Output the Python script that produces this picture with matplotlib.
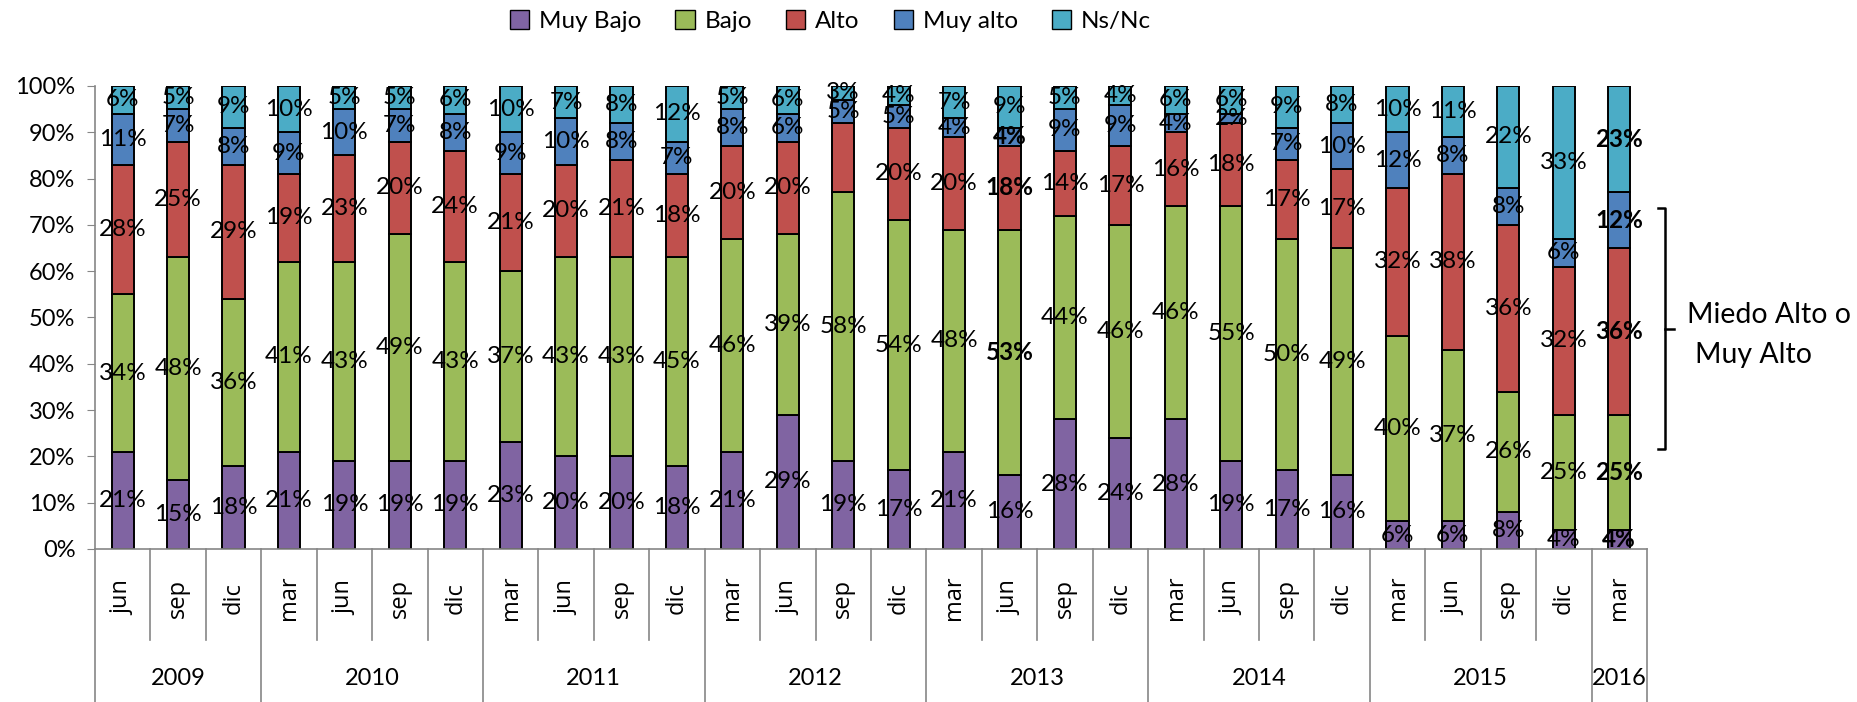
import matplotlib
matplotlib.use('Agg')
import matplotlib.pyplot as plt
import matplotlib.transforms as mtransforms
from matplotlib.patches import Patch

plt.rcParams['font.family'] = ['Lato', 'DejaVu Sans']

# Data
months = ['jun', 'sep', 'dic',
          'mar', 'jun', 'sep', 'dic',
          'mar', 'jun', 'sep', 'dic',
          'mar', 'jun', 'sep', 'dic',
          'mar', 'jun', 'sep', 'dic',
          'mar', 'jun', 'sep', 'dic',
          'mar', 'jun', 'sep', 'dic',
          'mar']
years = ['2009', '2010', '2011', '2012', '2013', '2014', '2015', '2016']
months_per_year = [3, 4, 4, 4, 4, 4, 4, 1]

muy_bajo = [21, 15, 18, 21, 19, 19, 19, 23, 20, 20, 18, 21, 29, 19, 17, 21, 16, 28, 24, 28, 19, 17, 16, 6, 6, 8, 4, 4]
bajo = [34, 48, 36, 41, 43, 49, 43, 37, 43, 43, 45, 46, 39, 58, 54, 48, 53, 44, 46, 46, 55, 50, 49, 40, 37, 26, 25, 25]
alto = [28, 25, 29, 19, 23, 20, 24, 21, 20, 21, 18, 20, 20, 15, 20, 20, 18, 14, 17, 16, 18, 17, 17, 32, 38, 36, 32, 36]
muy_alto = [11, 7, 8, 9, 10, 7, 8, 9, 10, 8, 7, 8, 6, 5, 5, 4, 4, 9, 9, 4, 2, 7, 10, 12, 8, 8, 6, 12]
ns_nc = [6, 5, 9, 10, 5, 5, 6, 10, 7, 8, 12, 5, 6, 3, 4, 7, 9, 5, 4, 6, 6, 9, 8, 10, 11, 22, 33, 23]

series_names = ['Muy Bajo', 'Bajo', 'Alto', 'Muy alto', 'Ns/Nc']
series = [muy_bajo, bajo, alto, muy_alto, ns_nc]
colors = ['#8064A2', '#9BBB59', '#C0504D', '#4F81BD', '#4BACC6']

# labels drawn in bold: (series index, bar index)
bold_labels = [(1, 16), (2, 16), (3, 16),
               (0, 27), (1, 27), (2, 27), (3, 27), (4, 27)]
hidden_labels = [(2, 13)]

fig = plt.figure(figsize=(18.58, 7.02), dpi=100)
ax = fig.add_axes([0.0511, 0.218, 0.8353, 0.6595])

x = list(range(len(months)))
bottom = [0] * len(months)
for s, (name, vals, col) in enumerate(zip(series_names, series, colors)):
    ax.bar(x, vals, 0.4, bottom=bottom, color=col, edgecolor='black',
           linewidth=1.4, label=name, zorder=2)
    for i, v in enumerate(vals):
        if (s, i) in hidden_labels:
            continue
        weight = 'bold' if (s, i) in bold_labels else 'normal'
        ax.text(i, bottom[i] + v / 2, f'{v}%', ha='center', va='center',
                fontsize=17.5, fontweight=weight, zorder=3)
    bottom = [b + v for b, v in zip(bottom, vals)]

ax.set_xlim(-0.5, len(months) - 0.5)
ax.set_ylim(0, 100)
ax.set_yticks(range(0, 101, 10))
ax.set_yticklabels([f'{t}%' for t in range(0, 101, 10)], fontsize=17)
ax.set_xticks([])
ax.tick_params(axis='y', direction='out', length=6, pad=8, color='#868686')
for side in ['top', 'right']:
    ax.spines[side].set_visible(False)
ax.spines['left'].set_color('#868686')
ax.spines['bottom'].set_color('#868686')
ax.spines['left'].set_linewidth(1.2)
ax.spines['bottom'].set_linewidth(1.2)

# Two-level category axis
trans = mtransforms.blended_transform_factory(ax.transData, ax.transAxes)
year_bounds = [0]
for n in months_per_year:
    year_bounds.append(year_bounds[-1] + n)

for i in range(1, len(months)):
    if i in year_bounds:
        continue
    ax.plot([i - 0.5, i - 0.5], [0, -0.197], transform=trans, color='#868686',
            linewidth=1.2, clip_on=False)
for b in year_bounds:
    ax.plot([b - 0.5, b - 0.5], [0, -0.33], transform=trans, color='#868686',
            linewidth=1.2, clip_on=False)

for i, m in enumerate(months):
    ax.text(i, -0.106, m, transform=trans, rotation=90, ha='center',
            va='center', fontsize=17, family=['Open Sans', 'DejaVu Sans'])
for k, y in enumerate(years):
    center = (year_bounds[k] + year_bounds[k + 1] - 1) / 2
    ax.text(center, -0.279, y, transform=trans, ha='center', va='center',
            fontsize=17)

# Legend
handles = [Patch(facecolor=c, edgecolor='black', linewidth=1.0) for c in colors]
fig.legend(handles, series_names, loc='center', bbox_to_anchor=(0.447, 0.97),
           ncol=5, frameon=False, fontsize=17.5, handlelength=0.8,
           handleheight=0.8, handletextpad=0.4, columnspacing=1.4)

# Bracket annotation
bx, btop, bbot, bmid = 1665 / 1858, 1 - 208 / 702, 1 - 449 / 702, 1 - 329 / 702
hook = 7 / 1858
fig.add_artist(plt.Line2D([bx - hook, bx, bx, bx - hook], [btop, btop, bbot, bbot],
                          color='black', linewidth=1.8, transform=fig.transFigure))
fig.add_artist(plt.Line2D([bx, bx + 9 / 1858], [bmid, bmid], color='black',
                          linewidth=1.8, transform=fig.transFigure))
fig.text(1687 / 1858, 1 - 315 / 702, 'Miedo Alto o', fontsize=20.5,
         ha='left', va='center')
fig.text(1695 / 1858, 1 - 355 / 702, 'Muy Alto', fontsize=20.5,
         ha='left', va='center')

fig.savefig('out.png', dpi=100)
